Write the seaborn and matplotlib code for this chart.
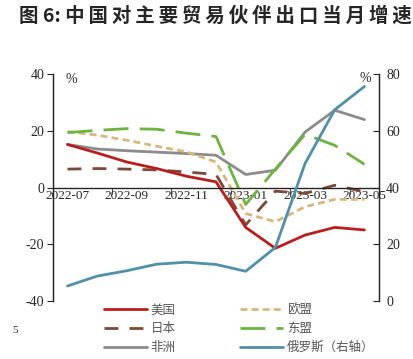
import numpy as np
import pandas as pd
import matplotlib
matplotlib.use("Agg")
import matplotlib.pyplot as plt
import seaborn as sns

# data (monthly export growth, %)
months = ["2022-07", "2022-08", "2022-09", "2022-10", "2022-11", "2022-12",
          "2023-01", "2023-02", "2023-03", "2023-04", "2023-05"]
usa = [15.2, 12.2, 9.0, 6.7, 4.0, 2.0, -14.1, -21.5, -16.8, -14.1, -15.0]
eu = [19.8, 18.5, 16.7, 14.6, 12.6, 9.0, -9.2, -12.1, -6.8, -4.2, -4.2]
japan = [6.5, 6.7, 6.5, 6.2, 5.5, 4.6, -13.2, -1.3, -2.1, 0.8, -1.5]
asean = [19.4, 20.2, 20.8, 20.6, 19.2, 18.0, -6.0, 6.5, 18.8, 14.9, 8.2]
africa = [15.2, 13.6, 13.0, 12.5, 12.0, 11.4, 4.6, 6.1, 19.6, 27.3, 24.0]
russia = [5.2, 8.7, 10.6, 12.9, 13.6, 12.8, 10.4, 18.8, 48.5, 67.5, 75.7]  # right axis

left_ticks = [-40, -20, 0, 20, 40]
right_ticks = [0, 20, 40, 60, 80]
label_months = ["2022-07", "2022-09", "2022-11", "2023-01", "2023-03", "2023-05"]

sns.set_style("ticks")
plt.rcParams["font.family"] = ["Liberation Serif", "Noto Sans CJK SC"]
plt.rcParams["axes.unicode_minus"] = False

idx = np.arange(len(months))
df = pd.DataFrame({"i": idx, "usa": usa, "eu": eu, "japan": japan,
                   "asean": asean, "africa": africa, "russia": russia})

fig = plt.figure(figsize=(4.13, 3.59), dpi=100)
ax = fig.add_axes([0.1276, 0.1624, 0.7908, 0.6306])
ax2 = ax.twinx()

lw = 2.0
styles = {
    "usa": ("#B81E1E", "-", "美国"),
    "japan": ("#7A4A36", (0, (5, 4)), "日本"),
    "africa": ("#8C8C8C", "-", "非洲"),
    "eu": ("#D8B77F", (0, (2.5, 1.5)), "欧盟"),
    "asean": ("#6DB33F", (0, (9, 4)), "东盟"),
}
handles = {}
for key in ["africa", "eu", "japan", "asean", "usa"]:
    color, ls, name = styles[key]
    sns.lineplot(data=df, x="i", y=key, ax=ax, color=color, linewidth=lw,
                 linestyle=ls, label=name, legend=False)
    handles[key] = ax.lines[-1]

sns.lineplot(data=df, x="i", y="russia", ax=ax2, color="#5090A8", linewidth=lw,
             label="俄罗斯（右轴）", legend=False)
handles["russia"] = ax2.lines[-1]

ax.set_xlim(-0.5, 10.5)
ax.set_ylim(-40, 40)
ax2.set_ylim(0, 80)
ax.set_yticks(left_ticks)
ax2.set_yticks(right_ticks)
ax.set_xlabel("")
ax.set_ylabel("")
ax2.set_ylabel("")

# x axis drawn at zero, labels on data points, ticks between
ax.spines["bottom"].set_position(("data", 0))
ax.spines["top"].set_visible(False)
ax2.spines["top"].set_visible(False)
ax2.spines["bottom"].set_visible(False)
for sp in ["left", "bottom"]:
    ax.spines[sp].set_linewidth(1.0)
ax2.spines["right"].set_linewidth(1.0)
ax.set_xticks([idx[months.index(m)] for m in label_months])
ax.set_xticklabels(label_months)
ax.set_xticks(np.arange(1.5, 10.5, 2), minor=True)
ax.tick_params(axis="x", which="major", length=0, pad=2, labelsize=9.5)
ax.tick_params(axis="x", which="minor", length=4, direction="out")
ax.tick_params(axis="y", length=4, direction="out", labelsize=10, pad=2)
ax2.tick_params(axis="y", length=4, direction="in", labelsize=10, pad=5)

ax.text(0.04, 1.005, "%", transform=ax.transAxes, fontsize=10, va="top")
ax.text(0.94, 1.01, "%", transform=ax.transAxes, fontsize=10, va="top")

order = ["usa", "japan", "africa", "eu", "asean", "russia"]
fig.legend([handles[k] for k in order], [handles[k].get_label() for k in order],
           loc="upper left", bbox_to_anchor=(0.225, 0.185), ncol=2, frameon=False,
           handlelength=3.4, handletextpad=0.3, columnspacing=5.2,
           labelspacing=0.45, labelcolor="#555555",
           prop={"family": ["Noto Sans CJK SC"], "size": 9})

# letter-spaced title (thin spaces come from DejaVu Sans)
title = "图 6: " + "\u2009".join("中国对主要贸易伙伴出口当月增速")
fig.text(0.045, 0.955, title, fontsize=14, fontweight="bold", va="center",
         family=["Noto Sans CJK SC", "DejaVu Sans"])
fig.text(0.03, 0.08, "5", fontsize=8, va="center")

fig.savefig("out.png", dpi=100)
